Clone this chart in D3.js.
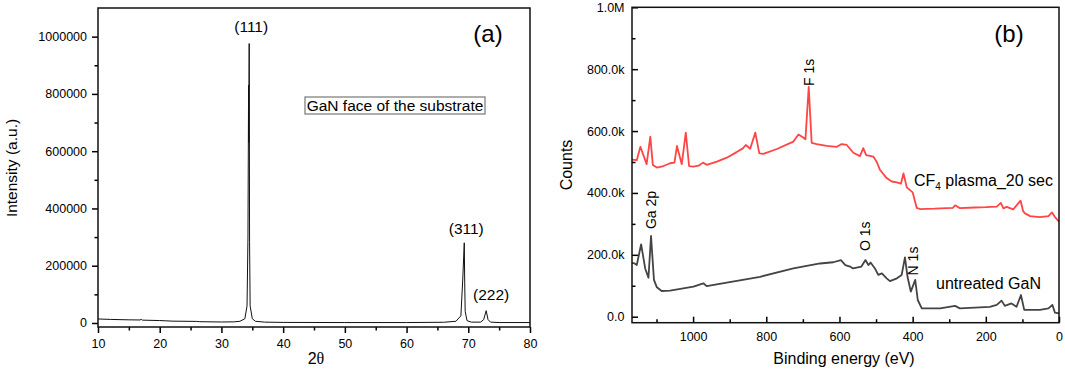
<!DOCTYPE html>
<html>
<head>
<meta charset="utf-8">
<script src="https://cdn.jsdelivr.net/npm/d3@7"></script>
<style>
  body { margin: 0; background: #fff; }
  svg { display: block; }
  text { font-family: "Liberation Sans", Arial, sans-serif; fill: #000; }
</style>
</head>
<body>
<div id="chart"></div>
<script>
// ---- panel (a): XRD pattern ----
const xrdTheta = [10, 12, 15, 16.8, 17, 17.2, 20, 21, 22, 26, 26.5, 30, 32, 33, 33.8, 34.15, 34.3, 34.4, 34.43, 34.5, 34.56, 34.65, 35, 35.5, 37, 40, 50, 60, 66, 68, 68.8, 69.1, 69.35, 69.42, 69.5, 69.8, 70.5, 72, 72.5, 72.9, 73.2, 73.6, 75, 80];
const xrdIntensity = [14000, 12500, 11000, 10500, 12500, 10000, 8500, 7500, 6500, 5500, 4500, 3500, 4000, 6000, 15000, 60000, 300000, 830000, 630000, 976000, 280000, 60000, 15000, 6000, 3000, 2000, 1500, 1500, 2500, 6000, 25000, 150000, 280000, 140000, 40000, 8000, 3000, 3000, 12000, 43000, 12000, 3000, 1500, 1500];
const xrdPeakLabels = ["(111)", "(311)", "(222)"];
const xrdPeakTheta = [34.5, 69.35, 72.9];
const xrdPeakHeight = [976000, 280000, 43000];
const xrdXTicks = [10, 20, 30, 40, 50, 60, 70, 80];
const xrdYTicks = [0, 200000, 400000, 600000, 800000, 1000000];

// ---- panel (b): XPS survey ----
const cf4Energy = [1167, 1154, 1144, 1127, 1117, 1110, 1099, 1081, 1063, 1051, 1044, 1031, 1020, 1011, 999, 985, 973, 963, 935, 908, 881, 864, 856, 844, 830, 819, 808, 771, 726, 712, 700, 693, 684, 676, 662, 635, 607, 594, 580, 562, 544, 535, 527, 507, 498, 489, 471, 457, 443, 432, 425, 416, 400, 389, 380, 340, 290, 284, 271, 230, 200, 170, 159, 152, 143, 125, 105, 98, 93, 79, 52, 29, 19, 11, 0];
const cf4Counts = [508, 506, 549, 493, 582, 490, 482, 487, 496, 498, 552, 493, 595, 487, 485, 488, 498, 491, 501, 514, 532, 544, 555, 543, 595, 528, 526, 542, 566, 589, 580, 573, 743, 562, 558, 552, 549, 558, 555, 530, 519, 545, 522, 517, 500, 474, 448, 437, 434, 430, 463, 418, 402, 352, 348, 349, 352, 360, 351, 353, 354, 356, 368, 350, 355, 347, 375, 341, 334, 325, 322, 325, 337, 322, 307].map(v => v * 1000);

const ganEnergy = [1167, 1160, 1154, 1142, 1131, 1122, 1115, 1107, 1099, 1086, 1063, 999, 972, 963, 908, 817, 726, 653, 617, 596, 584, 571, 563, 540, 529, 521, 515, 503, 494, 484, 471, 462, 443, 430, 421, 414, 405, 393, 386, 375, 325, 284, 271, 189, 170, 157, 148, 130, 116, 104, 95, 52, 29, 18, 11, 0];
const ganCounts = [174, 172, 167, 234, 156, 126, 261, 119, 95, 83, 84, 97, 108, 99, 110, 129, 156, 172, 176, 183, 167, 162, 156, 162, 183, 167, 175, 156, 135, 140, 124, 115, 124, 135, 192, 129, 81, 119, 54, 27, 27, 35, 27, 32, 38, 52, 35, 43, 32, 70, 22, 22, 27, 38, 13, 11].map(v => v * 1000);

const xpsPeakLabels = ["Ga 2p", "F 1s", "O 1s", "N 1s"];
const xpsPeakEnergy = [1115, 684, 530, 398];
const xpsPeakLabelCounts = [345000, 790000, 260000, 180000];
const xpsXTicks = [1000, 800, 600, 400, 200, 0];
const xpsYTicks = [0, 200000, 400000, 600000, 800000, 1000000];

const svg = d3.select("#chart").append("svg")
  .attr("width", 1065)
  .attr("height", 375);

const tickFont = "Liberation Sans, Arial, sans-serif";

function styleAxis(g) {
  g.select(".domain").remove();
  g.selectAll(".tick line").attr("stroke", "#000").attr("stroke-width", 1.5);
  g.selectAll("text")
    .attr("font-family", tickFont)
    .attr("font-size", 12.5)
    .attr("fill", "#000");
}

// ================= panel (a) =================
const a = {left: 98, right: 530, top: 8, bottom: 327};

const xA = d3.scaleLinear().domain([10, 80]).range([a.left, a.right]);
const yA = d3.scaleLinear().domain([-14000, 1100000]).range([a.bottom, a.top]);

const gA = svg.append("g");

// minor ticks
gA.append("g")
  .attr("transform", `translate(0,${a.bottom})`)
  .call(d3.axisBottom(xA).tickValues(d3.range(15, 80, 10)).tickSize(3.5).tickSizeOuter(0).tickFormat(""))
  .call(styleAxis);
gA.append("g")
  .attr("transform", `translate(${a.left},0)`)
  .call(d3.axisLeft(yA).tickValues(d3.range(100000, 1000000, 200000)).tickSize(3.5).tickSizeOuter(0).tickFormat(""))
  .call(styleAxis);

// major ticks
gA.append("g")
  .attr("transform", `translate(0,${a.bottom})`)
  .call(d3.axisBottom(xA).tickValues(xrdXTicks).tickSize(6).tickPadding(6).tickSizeOuter(0).tickFormat(d3.format("d")))
  .call(styleAxis);
gA.append("g")
  .attr("transform", `translate(${a.left},0)`)
  .call(d3.axisLeft(yA).tickValues(xrdYTicks).tickSize(6).tickPadding(5).tickSizeOuter(0).tickFormat(d3.format("d")))
  .call(styleAxis);

// data line
gA.append("path")
  .datum(xrdTheta.map((t, i) => [t, xrdIntensity[i]]))
  .attr("fill", "none")
  .attr("stroke", "#111")
  .attr("stroke-width", 1)
  .attr("d", d3.line().x(d => xA(d[0])).y(d => yA(d[1])));

// frame
gA.append("rect")
  .attr("x", a.left).attr("y", a.top)
  .attr("width", a.right - a.left).attr("height", a.bottom - a.top)
  .attr("fill", "none").attr("stroke", "#111").attr("stroke-width", 1.5);

// peak labels
const peakDx = [2, 2, 5];
const peakGap = [12, 9, 11];
gA.selectAll(".peaklab")
  .data(xrdPeakLabels)
  .join("text")
  .attr("x", (d, i) => xA(xrdPeakTheta[i]) + peakDx[i])
  .attr("y", (d, i) => yA(xrdPeakHeight[i]) - peakGap[i])
  .attr("text-anchor", "middle")
  .attr("font-size", 15.5)
  .text(d => d);

// panel tag
gA.append("text")
  .attr("x", 488).attr("y", 42)
  .attr("text-anchor", "middle")
  .attr("font-family", "Open Sans, sans-serif")
  .attr("font-size", 24)
  .text("(a)");

// boxed note
gA.append("rect")
  .attr("x", 305).attr("y", 97)
  .attr("width", 180).attr("height", 17)
  .attr("fill", "#fff").attr("stroke", "#777").attr("stroke-width", 1.2);
gA.append("text")
  .attr("x", 395).attr("y", 110.5)
  .attr("text-anchor", "middle")
  .attr("font-size", 15.5)
  .text("GaN face of the substrate");

// axis titles
gA.append("text")
  .attr("transform", "translate(11,168) rotate(-90)")
  .attr("text-anchor", "middle")
  .attr("dominant-baseline", "central")
  .attr("font-size", 15.5)
  .text("Intensity (a.u.)");
const tA = gA.append("text")
  .attr("x", 316).attr("y", 364)
  .attr("text-anchor", "middle")
  .attr("font-size", 16);
tA.append("tspan").text("2");
tA.append("tspan").attr("font-family", "Liberation Serif, serif").text("θ");

// ================= panel (b) =================
const b = {left: 632, right: 1059, top: 7.3, bottom: 322.7};

const xB = d3.scaleLinear().domain([1167, 0]).range([b.left, b.right]);
const yB = d3.scaleLinear().domain([-19400, 1000000]).range([b.bottom, b.top]);

const gB = svg.append("g");

// minor ticks (inward)
gB.append("g")
  .attr("transform", `translate(0,${b.bottom})`)
  .call(d3.axisBottom(xB).tickValues(d3.range(100, 1200, 200)).tickSize(-3.5).tickSizeOuter(0).tickFormat(""))
  .call(styleAxis);
gB.append("g")
  .attr("transform", `translate(${b.left},0)`)
  .call(d3.axisLeft(yB).tickValues(d3.range(100000, 1000000, 200000)).tickSize(-3.5).tickSizeOuter(0).tickFormat(""))
  .call(styleAxis);

const fmtB = d => d === 0 ? "0.0" : d >= 1e6 ? (d / 1e6).toFixed(1) + "M" : (d / 1000).toFixed(1) + "k";

gB.append("g")
  .attr("transform", `translate(0,${b.bottom})`)
  .call(d3.axisBottom(xB).tickValues(xpsXTicks).tickSize(-6).tickPadding(9).tickSizeOuter(0).tickFormat(d3.format("d")))
  .call(styleAxis);
gB.append("g")
  .attr("transform", `translate(${b.left},0)`)
  .call(d3.axisLeft(yB).tickValues(xpsYTicks).tickSize(-6).tickPadding(7.5).tickSizeOuter(0).tickFormat(fmtB))
  .call(styleAxis);

const lineB = d3.line().x(d => xB(d[0])).y(d => yB(d[1]));

gB.append("path")
  .datum(cf4Energy.map((e, i) => [e, cf4Counts[i]]))
  .attr("fill", "none")
  .attr("stroke", "#ff4545")
  .attr("stroke-width", 1.8)
  .attr("stroke-linejoin", "round")
  .attr("d", lineB);

gB.append("path")
  .datum(ganEnergy.map((e, i) => [e, ganCounts[i]]))
  .attr("fill", "none")
  .attr("stroke", "#444")
  .attr("stroke-width", 1.8)
  .attr("stroke-linejoin", "round")
  .attr("d", lineB);

gB.append("rect")
  .attr("x", b.left).attr("y", b.top)
  .attr("width", b.right - b.left).attr("height", b.bottom - b.top)
  .attr("fill", "none").attr("stroke", "#111").attr("stroke-width", 1.5);

// element labels (rotated)
gB.selectAll(".elem")
  .data(xpsPeakLabels)
  .join("text")
  .attr("transform", (d, i) => `translate(${xB(xpsPeakEnergy[i])},${yB(xpsPeakLabelCounts[i])}) rotate(-90)`)
  .attr("dominant-baseline", "central")
  .attr("text-anchor", "middle")
  .attr("font-family", "Open Sans, sans-serif")
  .attr("font-size", 14)
  .attr("font-weight", 500)
  .text(d => d);

// series labels
const cfLab = gB.append("text")
  .attr("x", 914).attr("y", 186)
  .attr("font-size", 16);
cfLab.append("tspan").text("CF");
cfLab.append("tspan").attr("dy", 4).attr("font-size", 10).text("4");
cfLab.append("tspan").attr("dy", -4).text(" plasma_20 sec");

gB.append("text")
  .attr("x", 936).attr("y", 289)
  .attr("font-size", 16)
  .text("untreated GaN");

gB.append("text")
  .attr("x", 1009).attr("y", 42)
  .attr("text-anchor", "middle")
  .attr("font-family", "Open Sans, sans-serif")
  .attr("font-size", 24)
  .text("(b)");

gB.append("text")
  .attr("transform", "translate(566,165) rotate(-90)")
  .attr("text-anchor", "middle")
  .attr("dominant-baseline", "central")
  .attr("font-size", 16)
  .text("Counts");

gB.append("text")
  .attr("x", 844).attr("y", 364)
  .attr("text-anchor", "middle")
  .attr("font-size", 16)
  .text("Binding energy (eV)");
</script>
</body>
</html>
